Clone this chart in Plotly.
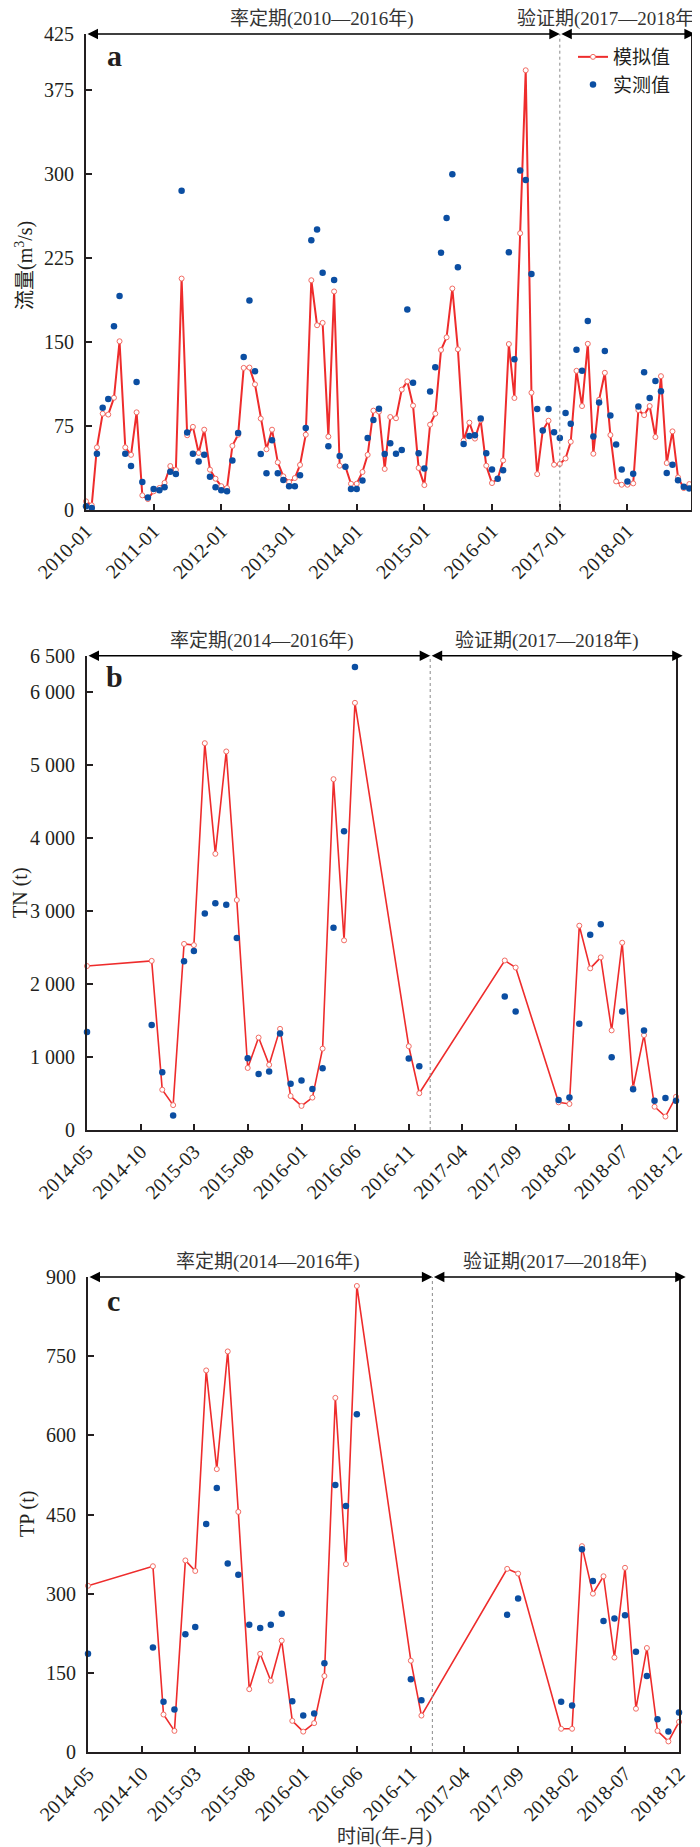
import pandas as pd
import plotly.graph_objects as go

W, H = 700, 1847
FONT = "Liberation Serif, Noto Sans CJK SC, serif"
INK = "#231f20"
RED = "#ee2c2c"
PINK = "#f26b63"
BLUE = "#0b4ea2"

# ---------------- data: panel a (monthly flow, m3/s) ----------------
months_a = pd.date_range("2010-01-01", "2018-12-01", freq="MS").strftime("%Y-%m").tolist()
flow_sim = [7.5, 4, 55.7, 85.8, 85, 100, 150.5, 55.7, 49, 87, 12.8, 9.5,
            16.4, 19.4, 24, 39, 35.5, 206.5, 66.5, 74, 50.7, 71.5, 35.8, 27.7,
            21, 19.4, 57, 67, 126.7, 127, 112, 81.4, 54, 71.5, 42.3, 29.8,
            24.7, 28.3, 40, 67, 205, 164.8, 166.9, 65.3, 195, 39.3, 38.4, 23.2,
            23.2, 33.7, 49, 88.5, 87.6, 36.4, 82.8, 81.7, 107.3, 114.7, 93, 37.3,
            22, 76, 85.8, 142.7, 154, 197.6, 143.3, 61.7, 77.8, 63.5, 79.9, 39.3,
            23.8, 27.7, 44, 148, 99.8, 247, 392.6, 104.5, 31.8, 70.8, 79.5, 40.2,
            40.8, 45.8, 60.7, 124.1, 92.6, 148.2, 50, 98.2, 122.3, 66.7, 25.3, 22.3,
            22.3, 23.5, 89, 84.5, 92.6, 64.9, 119.3, 41.7, 70, 28.9, 19.3, 22.9]
flow_obs = [3, 1.5, 50, 91, 99, 164, 191, 50, 39, 114, 24.7, 11,
            18.5, 17.3, 20, 34, 32, 285, 69, 50, 43, 49, 29.5, 20,
            17.3, 16.4, 44, 68.5, 136.5, 187, 123.7, 49.8, 32.5, 62, 32.5, 26.5,
            20.9, 20.9, 30.7, 73, 240.8, 250.3, 211.6, 56.6, 205.3, 48, 38.4, 18.5,
            18.5, 26, 64, 80.2, 90.3, 49.8, 59.3, 50, 53.3, 178.8, 113.5, 50.4,
            36.7, 105.5, 127.2, 229.5, 260.5, 299.8, 216.6, 58.7, 65.9, 66.5, 81.4, 50.4,
            36, 27.7, 35.2, 230, 134.4, 303, 294.5, 210.5, 89.9, 70.8, 89.9, 69.3,
            64, 86.3, 76.8, 142.8, 124.1, 168.7, 65.5, 95.8, 141.7, 84.2, 58.3, 36,
            25.3, 32.1, 92.3, 122.9, 99.7, 114.9, 105.9, 32.7, 40.2, 26.2, 20.5, 19]

# ---------------- data: panels b, c (TN / TP loads, t) ----------------
months_bc = (["2014-05", "2014-11", "2014-12"]
             + [f"2015-{m:02d}" for m in range(1, 13)]
             + [f"2016-{m:02d}" for m in range(1, 7)]
             + ["2016-11", "2016-12", "2017-08", "2017-09"]
             + [f"2018-{m:02d}" for m in range(1, 13)])
tn_sim = [2247, 2318, 552, 341, 2550, 2534, 5301, 3785, 5188, 3152, 850, 1267,
          893, 1386, 466, 330, 444, 1115, 4808, 2599, 5854, 1148, 504, 2323,
          2226, 379, 357, 2800, 2215, 2366, 1365, 2567, 579, 1300, 319, 184, 455]
tn_obs = [1343, 1440, 791, 200, 2312, 2453, 2967, 3108, 3087, 2632, 985, 769,
          801, 1321, 634, 677, 563, 845, 2772, 4094, 6346, 980, 872, 1830,
          1625, 412, 444, 1457, 2675, 2821, 996, 1625, 558, 1365, 401, 439, 401]
tp_sim = [315, 352, 71, 40, 363, 343, 723, 536, 759, 455, 119, 186,
          135, 211, 59, 38.6, 54.7, 144, 671, 356, 883, 173, 69, 347,
          338, 44, 44, 390, 300, 333, 179, 349, 82, 197, 40, 20, 57]
tp_obs = [186, 198, 95, 80.5, 223, 237, 432, 500, 357, 336, 241, 235,
          241, 262, 96, 69, 73, 168, 506, 466, 640, 138, 98, 260,
          291, 95, 88, 384, 324, 248, 253, 259, 190, 144, 62, 39, 75]

# tick labels
ticks_a_vals = [f"{y}-01" for y in range(2010, 2019)]
yt_a = [0, 75, 150, 225, 300, 375, 425]
yt_b = [0, 1000, 2000, 3000, 4000, 5000, 6000, 6500]
yt_b_text = ["0", "1 000", "2 000", "3 000", "4 000", "5 000", "6 000", "6 500"]
yt_c = [0, 150, 300, 450, 600, 750, 900]

NAME_SIM = "模拟值"
NAME_OBS = "实测值"


def dx(px):
    return px / W


def dy(px):
    return 1 - px / H


fig = go.Figure()


def add_pair(xv, sim, obs, xa, ya, lw, show):
    fig.add_trace(go.Scatter(
        x=xv, y=sim, name=NAME_SIM, mode="lines+markers", xaxis=xa, yaxis=ya,
        line=dict(color=RED, width=lw),
        marker=dict(symbol="circle", size=5, color="white", line=dict(color=PINK, width=1)),
        cliponaxis=False, showlegend=show))
    fig.add_trace(go.Scatter(
        x=xv, y=obs, name=NAME_OBS, mode="markers", xaxis=xa, yaxis=ya,
        marker=dict(symbol="circle", size=6.5, color=BLUE),
        cliponaxis=False, showlegend=show))


add_pair(months_a, flow_sim, flow_obs, "x", "y", 2, True)
add_pair(months_bc, tn_sim, tn_obs, "x2", "y2", 1.6, False)
add_pair(months_bc, tp_sim, tp_obs, "x3", "y3", 1.6, False)

tickfont = dict(family=FONT, size=20, color=INK)
common_x = dict(type="date", showline=True, linewidth=2, linecolor=INK, ticks="inside",
                ticklen=6, tickwidth=1.6, tickcolor=INK, tickangle=-45, tickformat="%Y-%m",
                showgrid=False, zeroline=False, tickfont=tickfont, automargin=False,
                mirror=False)
common_y = dict(showline=True, linewidth=2, linecolor=INK, ticks="inside", ticklen=6,
                tickwidth=1.6, tickcolor=INK, showgrid=False, zeroline=False,
                tickfont=tickfont, automargin=False, mirror=True, ticklabelstandoff=6)

x_end_a = "2018-12-10"
x_end_bc = "2018-12-01"

fig.update_layout(
    width=W, height=H, autosize=False,
    margin=dict(l=0, r=0, t=0, b=0),
    paper_bgcolor="white", plot_bgcolor="white",
    font=dict(family=FONT, size=20, color=INK),
    xaxis=dict(common_x, domain=[dx(78), dx(683)], anchor="y",
               range=["2010-01-01", x_end_a], tickvals=ticks_a_vals),
    yaxis=dict(common_y, domain=[dy(501.7), dy(26)], anchor="x",
               range=[0, 425], tickvals=yt_a),
    xaxis2=dict(common_x, domain=[dx(79), dx(668)], anchor="y2",
                range=["2014-05-01", x_end_bc], tick0="2014-05-01", dtick="M5"),
    yaxis2=dict(common_y, domain=[dy(1122), dy(647.7)], anchor="x2",
                range=[0, 6500], tickvals=yt_b, ticktext=yt_b_text),
    xaxis3=dict(common_x, domain=[dx(80), dx(671)], anchor="y3",
                range=["2014-05-01", x_end_bc], tick0="2014-05-01", dtick="M5"),
    yaxis3=dict(common_y, domain=[dy(1744), dy(1269)], anchor="x3",
                range=[0, 900], tickvals=yt_c),
    legend=dict(x=dx(565), y=dy(30), xanchor="left", yanchor="top",
                bgcolor="rgba(0,0,0,0)", font=dict(family=FONT, size=19, color=INK),
                itemwidth=30, tracegroupgap=0),
)

ann = []
shapes = []


def panel_decor(xr, yr, x_start, x_end_arrow, ytop, letter, letter_xy,
                lab1, lab1_xy, lab2, lab2_xy, lab2_anchor, ytitle, ytitle_xy):
    # vertical dotted line separating calibration / validation
    shapes.append(dict(type="line", xref=xr, yref=f"{yr} domain", x0="2017-01-01",
                       x1="2017-01-01", y0=0, y1=1,
                       line=dict(color="#8a8a8a", width=1, dash="dot")))
    # double-headed arrows along the top
    for a0, a1 in [(x_start, "2017-01-01"), ("2017-01-01", x_end_arrow)]:
        ann.append(dict(xref=xr, yref=yr, axref=xr, ayref=yr, x=a1, y=ytop, ax=a0, ay=ytop,
                        text="", showarrow=True, arrowhead=2, arrowside="end+start",
                        arrowsize=1.4, arrowwidth=1.5, arrowcolor="black",
                        standoff=0, startstandoff=0))
    ann.append(dict(xref="paper", yref="paper", x=dx(letter_xy[0]), y=dy(letter_xy[1]),
                    text=f"<b>{letter}</b>", showarrow=False, xanchor="center",
                    yanchor="middle", font=dict(family=FONT, size=30, color=INK)))
    for t, (px, py), anc in [(lab1, lab1_xy, "center"), (lab2, lab2_xy, lab2_anchor)]:
        ann.append(dict(xref="paper", yref="paper", x=dx(px), y=dy(py), text=t,
                        showarrow=False, xanchor=anc, yanchor="middle",
                        font=dict(family=FONT, size=19, color="#333333")))
    ann.append(dict(xref="paper", yref="paper", x=dx(ytitle_xy[0]), y=dy(ytitle_xy[1]),
                    text=ytitle, showarrow=False, textangle=-90, xanchor="center",
                    yanchor="middle", font=dict(family=FONT, size=20, color=INK)))


panel_decor("x", "y", "2010-01-01", "2018-12-31", 425, "a", (106, 47),
            "率定期(2010—2016年)", (314, 11), "验证期(2017—2018年)", (695, 11), "right",
            "流量(m<sup>3</sup>/s)", (16, 258))
panel_decor("x2", "y2", "2014-05-01", "2018-12-20", 6500, "b", (106, 668),
            "率定期(2014—2016年)", (254, 633), "验证期(2017—2018年)", (539, 633), "center",
            "TN (t)", (12, 885))
panel_decor("x3", "y3", "2014-05-01", "2018-12-20", 900, "c", (105, 1292),
            "率定期(2014—2016年)", (260, 1254), "验证期(2017—2018年)", (547, 1254), "center",
            "TP (t)", (19, 1506))

# small arrow at the right end of panel a's time axis
ann.append(dict(xref="x", yref="y", x="2018-12-31", y=0, ax=-14, ay=0, text="",
                showarrow=True, arrowhead=2, arrowsize=1.4, arrowwidth=1.5,
                arrowcolor="black", standoff=0))

# x-axis title
ann.append(dict(xref="paper", yref="paper", x=dx(376), y=dy(1829), text="时间(年-月)",
                showarrow=False, xanchor="center", yanchor="middle",
                font=dict(family=FONT, size=19, color="#333333")))

fig.update_layout(annotations=ann, shapes=shapes)
fig.write_html("out.html")
